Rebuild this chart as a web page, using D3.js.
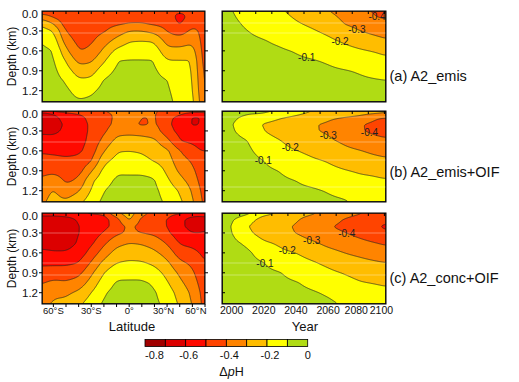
<!DOCTYPE html>
<html><head><meta charset="utf-8">
<script src="https://cdn.jsdelivr.net/npm/d3@7"></script>
<style>
body{margin:0;background:#fff}
svg text{font-family:"Liberation Sans",Arial,Helvetica,sans-serif;fill:#111}
</style></head>
<body><svg id="chart" width="519" height="382"></svg>
<script>
// ---------------- data ----------------
const depthRows = [0, 0.05, 0.1, 0.2, 0.3, 0.45, 0.6, 0.75, 0.9, 1.05, 1.2, 1.4];
const latCols = [-70, -60, -50, -40, -30, -20, -10, 0, 10, 20, 30, 40, 50, 55, 60];
const yearCols = [1990, 2000, 2010, 2020, 2030, 2040, 2050, 2060, 2070, 2080, 2090, 2100];
const levels = [-0.8, -0.7, -0.6, -0.5, -0.4, -0.3, -0.2, -0.1, 0];
const colors = ["#a00000", "#dc0000", "#ff0a00", "#ff4400", "#ff8400", "#ffbd00", "#ffff00", "#b0dc14"];
const latTicks = [-60, -30, 0, 30, 60];
const latTickLabels = ["60°S", "30°S", "0°", "30°N", "60°N"];
const yearTicks = [2000, 2020, 2040, 2060, 2080, 2100];
const depthTicks = [0, 0.3, 0.6, 0.9, 1.2];
const cbarTicks = [-0.8, -0.6, -0.4, -0.2, 0];
const panelNames = ["(a) A2_emis", "(b) A2_emis+OIF", "(c) A2_conc+OIF"];
const labelLevels = [-0.1, -0.2, -0.3, -0.4];
const labelYears = [[2046.7, 2067.4, 2077.9, 2090.4], [2019.7, 2036.5, 2060.1, 2085.7], [2020.7, 2034.6, 2049.8, 2071.6]];

// delta pH, latitude sections (one profile per latitude column, values at depthRows)
const latA = [
 [-0.47,-0.39,-0.32,-0.20,-0.16,-0.095,-0.088,-0.077,-0.066,-0.056,-0.045,-0.03],
 [-0.47,-0.435,-0.40,-0.29,-0.20,-0.14,-0.096,-0.086,-0.075,-0.065,-0.054,-0.04],
 [-0.47,-0.465,-0.46,-0.45,-0.41,-0.35,-0.276,-0.205,-0.156,-0.109,-0.081,-0.05],
 [-0.47,-0.47,-0.47,-0.46,-0.45,-0.43,-0.403,-0.33,-0.25,-0.185,-0.139,-0.08],
 [-0.47,-0.466,-0.46,-0.45,-0.44,-0.415,-0.382,-0.314,-0.243,-0.177,-0.119,-0.07],
 [-0.47,-0.46,-0.45,-0.43,-0.41,-0.345,-0.278,-0.213,-0.14,-0.09,-0.069,-0.04],
 [-0.47,-0.455,-0.44,-0.41,-0.355,-0.267,-0.174,-0.099,-0.085,-0.07,-0.055,-0.03],
 [-0.46,-0.445,-0.43,-0.391,-0.30,-0.206,-0.144,-0.095,-0.085,-0.07,-0.055,-0.03],
 [-0.46,-0.445,-0.43,-0.39,-0.30,-0.20,-0.144,-0.095,-0.085,-0.07,-0.055,-0.03],
 [-0.46,-0.45,-0.44,-0.41,-0.33,-0.208,-0.144,-0.097,-0.088,-0.08,-0.07,-0.06],
 [-0.47,-0.46,-0.45,-0.43,-0.405,-0.34,-0.27,-0.195,-0.137,-0.095,-0.085,-0.07],
 [-0.48,-0.52,-0.53,-0.515,-0.45,-0.35,-0.27,-0.195,-0.175,-0.16,-0.145,-0.13],
 [-0.47,-0.465,-0.46,-0.42,-0.375,-0.32,-0.25,-0.197,-0.19,-0.185,-0.18,-0.17],
 [-0.47,-0.46,-0.45,-0.43,-0.398,-0.38,-0.365,-0.35,-0.33,-0.315,-0.30,-0.27],
 [-0.47,-0.47,-0.47,-0.46,-0.46,-0.455,-0.45,-0.445,-0.44,-0.435,-0.43,-0.42]
];
const latB = [
 [-0.48,-0.71,-0.64,-0.655,-0.62,-0.56,-0.51,-0.47,-0.43,-0.39,-0.35,-0.32],
 [-0.47,-0.60,-0.63,-0.65,-0.62,-0.57,-0.52,-0.47,-0.43,-0.33,-0.29,-0.26],
 [-0.46,-0.53,-0.56,-0.58,-0.58,-0.56,-0.53,-0.48,-0.45,-0.42,-0.36,-0.27],
 [-0.45,-0.50,-0.53,-0.55,-0.55,-0.54,-0.52,-0.47,-0.44,-0.38,-0.31,-0.21],
 [-0.43,-0.46,-0.47,-0.48,-0.48,-0.47,-0.45,-0.41,-0.31,-0.22,-0.19,-0.14],
 [-0.40,-0.43,-0.44,-0.44,-0.42,-0.37,-0.305,-0.225,-0.17,-0.135,-0.10,-0.07],
 [-0.37,-0.38,-0.38,-0.37,-0.33,-0.27,-0.205,-0.17,-0.11,-0.085,-0.07,-0.05],
 [-0.31,-0.285,-0.31,-0.36,-0.32,-0.27,-0.20,-0.165,-0.115,-0.08,-0.065,-0.05],
 [-0.36,-0.38,-0.41,-0.42,-0.33,-0.27,-0.21,-0.17,-0.115,-0.08,-0.065,-0.05],
 [-0.39,-0.39,-0.385,-0.38,-0.35,-0.28,-0.245,-0.205,-0.13,-0.09,-0.08,-0.07],
 [-0.42,-0.46,-0.48,-0.48,-0.46,-0.37,-0.28,-0.25,-0.22,-0.18,-0.14,-0.11],
 [-0.45,-0.49,-0.52,-0.54,-0.53,-0.50,-0.40,-0.36,-0.32,-0.27,-0.21,-0.17],
 [-0.46,-0.55,-0.61,-0.61,-0.57,-0.52,-0.46,-0.41,-0.37,-0.34,-0.31,-0.28],
 [-0.46,-0.56,-0.61,-0.605,-0.57,-0.53,-0.50,-0.47,-0.44,-0.41,-0.38,-0.35],
 [-0.46,-0.53,-0.57,-0.57,-0.55,-0.52,-0.50,-0.48,-0.47,-0.46,-0.45,-0.44]
];
const latC = [
 [-0.50,-0.62,-0.64,-0.66,-0.66,-0.63,-0.58,-0.52,-0.46,-0.41,-0.37,-0.33],
 [-0.50,-0.62,-0.65,-0.67,-0.67,-0.64,-0.59,-0.52,-0.45,-0.38,-0.32,-0.28],
 [-0.50,-0.60,-0.63,-0.65,-0.66,-0.64,-0.59,-0.52,-0.45,-0.39,-0.32,-0.26],
 [-0.50,-0.57,-0.59,-0.60,-0.60,-0.59,-0.56,-0.50,-0.43,-0.36,-0.28,-0.21],
 [-0.48,-0.55,-0.57,-0.57,-0.56,-0.52,-0.46,-0.39,-0.32,-0.26,-0.20,-0.14],
 [-0.46,-0.52,-0.54,-0.53,-0.49,-0.42,-0.35,-0.27,-0.20,-0.15,-0.11,-0.08],
 [-0.31,-0.38,-0.44,-0.46,-0.42,-0.33,-0.26,-0.20,-0.13,-0.09,-0.07,-0.05],
 [-0.25,-0.26,-0.27,-0.37,-0.38,-0.30,-0.245,-0.185,-0.125,-0.09,-0.07,-0.05],
 [-0.36,-0.40,-0.43,-0.44,-0.40,-0.31,-0.25,-0.19,-0.125,-0.09,-0.07,-0.05],
 [-0.44,-0.45,-0.46,-0.45,-0.42,-0.34,-0.28,-0.22,-0.16,-0.11,-0.09,-0.08],
 [-0.46,-0.48,-0.50,-0.50,-0.48,-0.41,-0.34,-0.28,-0.23,-0.19,-0.15,-0.12],
 [-0.48,-0.55,-0.58,-0.58,-0.56,-0.51,-0.45,-0.38,-0.32,-0.28,-0.24,-0.21],
 [-0.50,-0.60,-0.63,-0.63,-0.60,-0.53,-0.47,-0.42,-0.38,-0.35,-0.32,-0.30],
 [-0.50,-0.61,-0.64,-0.64,-0.60,-0.54,-0.50,-0.47,-0.44,-0.41,-0.38,-0.36],
 [-0.50,-0.60,-0.62,-0.62,-0.59,-0.55,-0.52,-0.50,-0.48,-0.47,-0.46,-0.45]
];
// delta pH, global-mean time series (one profile per year column)
const yearA = [
 [-0.065,-0.063,-0.061,-0.056,-0.052,-0.046,-0.039,-0.033,-0.026,-0.02,-0.014,-0.005],
 [-0.098,-0.095,-0.092,-0.085,-0.079,-0.07,-0.06,-0.051,-0.041,-0.032,-0.023,-0.01],
 [-0.13,-0.125,-0.12,-0.11,-0.10,-0.088,-0.077,-0.065,-0.054,-0.042,-0.03,-0.015],
 [-0.16,-0.153,-0.145,-0.131,-0.116,-0.097,-0.085,-0.073,-0.06,-0.048,-0.036,-0.02],
 [-0.19,-0.181,-0.172,-0.155,-0.137,-0.111,-0.092,-0.08,-0.067,-0.055,-0.042,-0.025],
 [-0.225,-0.217,-0.208,-0.189,-0.168,-0.136,-0.104,-0.088,-0.075,-0.061,-0.048,-0.03],
 [-0.26,-0.248,-0.237,-0.214,-0.191,-0.157,-0.123,-0.095,-0.081,-0.068,-0.054,-0.035],
 [-0.297,-0.284,-0.271,-0.245,-0.219,-0.181,-0.144,-0.107,-0.088,-0.074,-0.059,-0.04],
 [-0.335,-0.326,-0.317,-0.30,-0.265,-0.212,-0.169,-0.129,-0.096,-0.082,-0.069,-0.05],
 [-0.375,-0.3625,-0.35,-0.325,-0.30,-0.243,-0.19,-0.148,-0.106,-0.09,-0.078,-0.055],
 [-0.415,-0.407,-0.397,-0.362,-0.328,-0.271,-0.208,-0.164,-0.122,-0.095,-0.083,-0.06],
 [-0.45,-0.432,-0.414,-0.381,-0.348,-0.30,-0.235,-0.181,-0.141,-0.10,-0.091,-0.07]
];
const yearB = [
 [-0.04,-0.05,-0.06,-0.07,-0.065,-0.055,-0.045,-0.035,-0.028,-0.02,-0.015,-0.01],
 [-0.055,-0.07,-0.085,-0.095,-0.092,-0.08,-0.068,-0.056,-0.045,-0.035,-0.027,-0.02],
 [-0.08,-0.10,-0.12,-0.145,-0.13,-0.098,-0.086,-0.073,-0.06,-0.05,-0.04,-0.03],
 [-0.09,-0.105,-0.14,-0.208,-0.198,-0.16,-0.13,-0.10,-0.085,-0.07,-0.055,-0.04],
 [-0.10,-0.14,-0.19,-0.245,-0.24,-0.195,-0.165,-0.135,-0.102,-0.085,-0.07,-0.05],
 [-0.14,-0.185,-0.225,-0.285,-0.285,-0.245,-0.197,-0.165,-0.135,-0.10,-0.085,-0.06],
 [-0.20,-0.235,-0.26,-0.293,-0.292,-0.265,-0.22,-0.188,-0.157,-0.12,-0.09,-0.07],
 [-0.23,-0.26,-0.285,-0.31,-0.31,-0.285,-0.245,-0.205,-0.18,-0.14,-0.105,-0.08],
 [-0.26,-0.28,-0.30,-0.36,-0.36,-0.315,-0.28,-0.23,-0.195,-0.16,-0.125,-0.085],
 [-0.27,-0.29,-0.315,-0.39,-0.39,-0.345,-0.297,-0.26,-0.21,-0.18,-0.15,-0.115],
 [-0.28,-0.305,-0.39,-0.43,-0.425,-0.37,-0.32,-0.275,-0.215,-0.19,-0.165,-0.13],
 [-0.29,-0.33,-0.41,-0.46,-0.455,-0.385,-0.335,-0.29,-0.235,-0.195,-0.17,-0.15]
];
const yearC = [
 [-0.04,-0.05,-0.06,-0.07,-0.065,-0.055,-0.045,-0.035,-0.028,-0.02,-0.015,-0.01],
 [-0.06,-0.075,-0.09,-0.098,-0.095,-0.082,-0.07,-0.058,-0.047,-0.037,-0.028,-0.02],
 [-0.085,-0.115,-0.155,-0.195,-0.175,-0.115,-0.085,-0.075,-0.065,-0.052,-0.04,-0.03],
 [-0.15,-0.21,-0.245,-0.27,-0.25,-0.185,-0.14,-0.098,-0.085,-0.07,-0.055,-0.04],
 [-0.22,-0.25,-0.27,-0.285,-0.28,-0.215,-0.18,-0.135,-0.096,-0.082,-0.068,-0.05],
 [-0.265,-0.28,-0.29,-0.305,-0.30,-0.255,-0.20,-0.165,-0.13,-0.095,-0.08,-0.06],
 [-0.29,-0.31,-0.335,-0.36,-0.345,-0.285,-0.235,-0.19,-0.155,-0.12,-0.092,-0.07],
 [-0.32,-0.34,-0.36,-0.39,-0.38,-0.325,-0.27,-0.22,-0.18,-0.145,-0.11,-0.08],
 [-0.36,-0.385,-0.405,-0.42,-0.395,-0.35,-0.30,-0.26,-0.205,-0.17,-0.135,-0.105],
 [-0.395,-0.415,-0.435,-0.46,-0.43,-0.375,-0.32,-0.275,-0.23,-0.195,-0.16,-0.12],
 [-0.42,-0.44,-0.465,-0.49,-0.47,-0.40,-0.345,-0.29,-0.25,-0.205,-0.175,-0.14],
 [-0.44,-0.465,-0.49,-0.53,-0.505,-0.425,-0.365,-0.305,-0.26,-0.215,-0.185,-0.16]
];

// ---------------- layout ----------------
const svg = d3.select("#chart");
const leftRange = [42, 205], rightRange = [222, 386];
const rowTops = [11, 111, 213], rowH = 91;
const xLat = d3.scaleLinear().domain([-69, 60]).range(leftRange);
const xYear = d3.scaleLinear().domain([1994, 2096]).range(rightRange);
const cb = d3.scaleLinear().domain([-0.8, 0]).range([145, 307.7]);
const artifactLines = [[23, 33], [117, 142, 160, 187], [233, 263, 275]];

function makeInterp(xs, ys, cols) {
  return function (x, z) {
    let i = Math.max(0, Math.min(xs.length - 2, d3.bisectRight(xs, x) - 1));
    let j = Math.max(0, Math.min(ys.length - 2, d3.bisectRight(ys, z) - 1));
    const tx = Math.max(0, Math.min(1, (x - xs[i]) / (xs[i + 1] - xs[i])));
    const tz = Math.max(0, Math.min(1, (z - ys[j]) / (ys[j + 1] - ys[j])));
    return (1 - tx) * (1 - tz) * cols[i][j] + tx * (1 - tz) * cols[i + 1][j] +
           (1 - tx) * tz * cols[i][j + 1] + tx * tz * cols[i + 1][j + 1];
  };
}
function boxBlur(src, nx, ny, rx, ry) {
  const tmp = new Float64Array(nx * ny), out = new Float64Array(nx * ny);
  for (let j = 0; j < ny; j++) for (let i = 0; i < nx; i++) {
    let s = 0, c = 0;
    for (let k = -rx; k <= rx; k++) { const ii = Math.min(nx - 1, Math.max(0, i + k)); s += src[j * nx + ii]; c++; }
    tmp[j * nx + i] = s / c;
  }
  for (let j = 0; j < ny; j++) for (let i = 0; i < nx; i++) {
    let s = 0, c = 0;
    for (let k = -ry; k <= ry; k++) { const jj = Math.min(ny - 1, Math.max(0, j + k)); s += tmp[jj * nx + i]; c++; }
    out[j * nx + i] = s / c;
  }
  return out;
}

let clipId = 0;
function drawField(xScale, yScale, xs, cols, rowIdx, labels) {
  const [x0, x1] = xScale.range(), [y0, y1] = yScale.range();
  const nx = Math.round((x1 - x0) * 2), ny = Math.round((y1 - y0) * 2);
  const sx = (x1 - x0) / nx, sy = (y1 - y0) / ny;
  const f = makeInterp(xs, depthRows, cols);
  let vals = new Float64Array(nx * ny);
  for (let j = 0; j < ny; j++) {
    const z = yScale.invert(y0 + (j + 0.5) * sy);
    for (let i = 0; i < nx; i++) vals[j * nx + i] = f(xScale.invert(x0 + (i + 0.5) * sx), z);
  }
  vals = boxBlur(vals, nx, ny, 7, 2);
  vals = boxBlur(vals, nx, ny, 7, 2);
  const id = "clip" + (clipId++);
  svg.append("clipPath").attr("id", id).append("rect")
    .attr("x", x0).attr("y", y0).attr("width", x1 - x0).attr("height", y1 - y0);
  const g = svg.append("g").attr("clip-path", `url(#${id})`);
  const path = d3.geoPath(d3.geoTransform({
    point: function (x, y) { this.stream.point(x0 + x * sx, y0 + y * sy); }
  }));
  const contours = d3.contours().size([nx, ny]).thresholds(levels.slice(1, 8))(vals);
  g.append("rect").attr("x", x0).attr("y", y0).attr("width", x1 - x0).attr("height", y1 - y0).attr("fill", colors[0]);
  g.selectAll("path.fill").data(contours).join("path").attr("class", "fill")
    .attr("d", path).attr("fill", (d, k) => colors[k + 1]);
  g.selectAll("path.line").data(contours).join("path").attr("class", "line")
    .attr("d", path).attr("fill", "none").attr("stroke", "#222").attr("stroke-width", 0.7);
  // faint scan lines present in the reference image
  g.selectAll("line.art").data(artifactLines[rowIdx]).join("line").attr("class", "art")
    .attr("x1", x0).attr("x2", x1).attr("y1", d => d).attr("y2", d => d)
    .attr("stroke", "#fff").attr("stroke-opacity", 0.35).attr("stroke-width", 1);
  if (labels) {
    labelLevels.forEach((L, k) => {
      const yr = labels[k];
      const i = Math.max(0, Math.min(nx - 1, Math.floor((xScale(yr) - x0) / sx)));
      for (let j = ny - 2; j >= 0; j--) {
        const va = vals[j * nx + i], vb = vals[(j + 1) * nx + i];
        if (va <= L && vb > L) {
          const t = (L - vb) / (va - vb);
          const yy = y0 + (j + 1.5 - t) * sy;
          svg.append("text").attr("x", xScale(yr)).attr("y", yy + 3.5)
            .attr("text-anchor", "middle").attr("font-size", 10).style("fill", "#222")
            .text(d3.format(".1f")(L).replace("−", "-"));
          break;
        }
      }
    });
  }
  svg.append("rect").attr("x", x0).attr("y", y0).attr("width", x1 - x0).attr("height", y1 - y0)
    .attr("fill", "none").attr("stroke", "#000").attr("stroke-width", 1);
}

const latData = [latA, latB, latC], yearData = [yearA, yearB, yearC];
rowTops.forEach((top, r) => {
  const yD = d3.scaleLinear().domain([0, 1.37]).range([top, top + rowH]);
  drawField(xLat, yD, latCols, latData[r], r, null);
  drawField(xYear, yD, yearCols, yearData[r], r, labelYears[r]);

  // left axis labels & ticks (left panels)
  depthTicks.forEach(d => {
    const y = yD(d);
    svg.append("text").attr("x", 38).attr("y", Math.max(y, top + 2.5) + 4)
      .attr("text-anchor", "end").attr("font-size", 11.5).text(d3.format(".1f")(d));
    if (d > 0) {
      svg.append("line").attr("x1", 39).attr("x2", 42).attr("y1", y).attr("y2", y).attr("stroke", "#000");
      svg.append("line").attr("x1", 205).attr("x2", 208).attr("y1", y).attr("y2", y).attr("stroke", "#000");
      svg.append("line").attr("x1", 222).attr("x2", 225).attr("y1", y).attr("y2", y).attr("stroke", "#000");
    }
  });
  // top ticks
  d3.range(-60, 60, 10).forEach(l => {
    svg.append("line").attr("x1", xLat(l)).attr("x2", xLat(l)).attr("y1", top).attr("y2", top + 3).attr("stroke", "#000");
  });
  d3.range(2005, 2096, 10).forEach(yv => {
    svg.append("line").attr("x1", xYear(yv)).attr("x2", xYear(yv)).attr("y1", top).attr("y2", top + 3).attr("stroke", "#000");
  });
  svg.append("text").attr("transform", `translate(16,${top + rowH / 2}) rotate(-90)`)
    .attr("text-anchor", "middle").attr("font-size", 12).text("Depth (km)");
});

// panel labels
const panelLabelY = [81, 177, 283];
panelNames.forEach((n, i) => {
  svg.append("text").attr("x", 389.5).attr("y", panelLabelY[i]).attr("font-size", 14.5).text(n);
});

// bottom axes
const bottom = rowTops[2] + rowH;
d3.range(-60, 61, 10).forEach(l => {
  svg.append("line").attr("x1", xLat(l)).attr("x2", xLat(l)).attr("y1", bottom).attr("y2", bottom + 3).attr("stroke", "#000");
});
latTicks.forEach((l, i) => {
  const t = svg.append("text").attr("x", xLat(l)).attr("y", 314).attr("font-size", 9.5).text(latTickLabels[i]);
  if (i === 4) t.attr("text-anchor", "end").attr("dx", 1.5);
  else t.attr("text-anchor", "middle").attr("dx", i === 3 ? -3.5 : 0);
});
yearTicks.forEach((yv, i) => {
  svg.append("text").attr("x", xYear(yv)).attr("y", 314).attr("font-size", 10.5)
    .attr("text-anchor", "middle").attr("dx", i === 4 ? -4 : (i === 5 ? -11 : 0)).text(yv);
});
svg.append("text").attr("x", 132).attr("y", 330.5).attr("text-anchor", "middle").attr("font-size", 13).text("Latitude");
svg.append("text").attr("x", 305).attr("y", 331).attr("text-anchor", "middle").attr("font-size", 13).text("Year");

// colorbar
d3.range(8).forEach(k => {
  svg.append("rect").attr("x", cb(levels[k])).attr("y", 339.5)
    .attr("width", cb(levels[k + 1]) - cb(levels[k])).attr("height", 7)
    .attr("fill", colors[k]).attr("stroke", "#000").attr("stroke-width", 0.8);
});
cbarTicks.forEach((t, i) => {
  const tx = svg.append("text").attr("x", cb(t)).attr("y", 358.5).attr("font-size", 11)
    .text(t === 0 ? "0" : d3.format(".1f")(t).replace("−", "-"));
  if (i === 0) tx.attr("text-anchor", "start");
  else tx.attr("text-anchor", "middle").attr("dx", i === 4 ? 0 : 3);
});
const dl = svg.append("text").attr("x", 231.5).attr("y", 376).attr("text-anchor", "middle").attr("font-size", 12.5);
dl.append("tspan").text("Δ");
dl.append("tspan").attr("font-style", "italic").text("p");
dl.append("tspan").text("H");
</script></body></html>
